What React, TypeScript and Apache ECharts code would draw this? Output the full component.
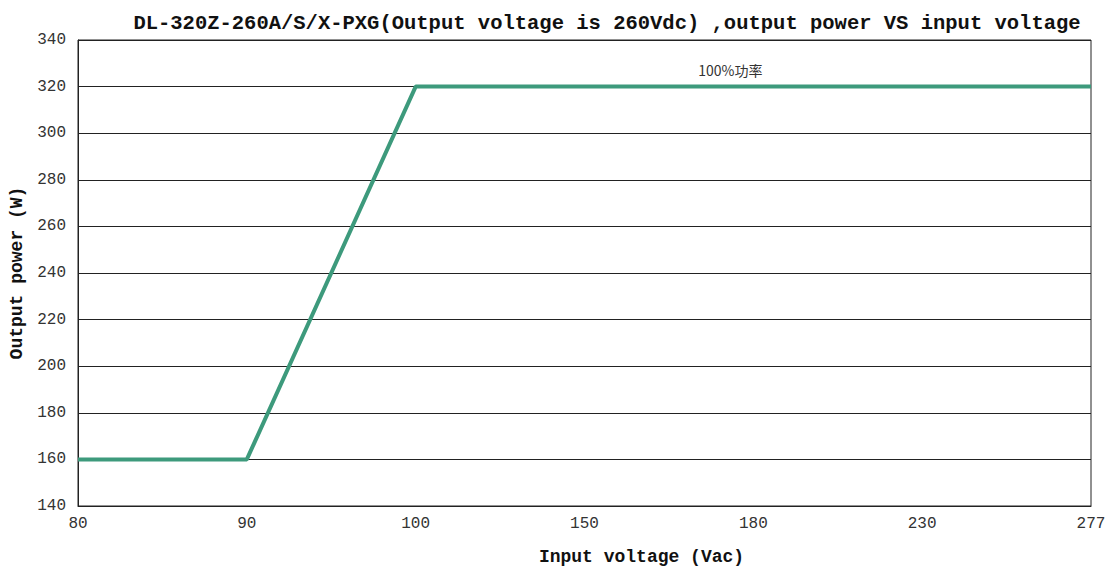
import React, { useEffect, useRef } from "react";
import * as echarts from "echarts";

const categories = ["80", "90", "100", "150", "180", "230", "277"];
const powerValues = [160, 160, 320, 320, 320, 320, 320];
const yTicks = { min: 140, max: 340, interval: 20 };
const titleText = "DL-320Z-260A/S/X-PXG(Output voltage is 260Vdc) ,output power VS input voltage";
const xName = "Input voltage (Vac)";
const yName = "Output power (W)";
const noteText = "100%功率";
const noteAt = "180";

export default function App() {
  const ref = useRef<HTMLDivElement>(null);
  useEffect(() => {
    const chart = echarts.init(ref.current!, null, { renderer: "svg" });
    const mono = "'Liberation Mono', 'DejaVu Sans Mono', monospace";
    chart.setOption({
      animation: false,
      backgroundColor: "#ffffff",
      title: {
        text: titleText,
        left: 602,
        textAlign: "center",
        top: 8,
        textStyle: { fontFamily: mono, fontWeight: "bold", fontSize: 20.5, color: "#111" },
      },
      grid: {
        left: 78,
        right: 19,
        top: 40,
        bottom: 66,
        outerBoundsMode: "none",
        containLabel: false,
        show: true,
        borderColor: "#222",
        borderWidth: 1,
        backgroundColor: "transparent",
      },
      xAxis: {
        type: "category",
        data: categories,
        boundaryGap: false,
        name: xName,
        nameLocation: "middle",
        nameGap: 42,
        nameTextStyle: { fontFamily: mono, fontWeight: "bold", fontSize: 18, color: "#111", padding: [0, 0, 0, 114] },
        axisLine: { show: true, lineStyle: { color: "#222", width: 1 } },
        axisTick: { show: false },
        splitLine: { show: false },
        axisLabel: { fontFamily: mono, fontSize: 16, color: "#333", margin: 10 },
      },
      yAxis: {
        type: "value",
        min: yTicks.min,
        max: yTicks.max,
        interval: yTicks.interval,
        name: yName,
        nameLocation: "middle",
        nameGap: 52,
        nameRotate: 90,
        nameTextStyle: { fontFamily: mono, fontWeight: "bold", fontSize: 18, color: "#111" },
        axisLine: { show: true, lineStyle: { color: "#222", width: 1 } },
        axisTick: { show: false },
        splitLine: { show: true, lineStyle: { color: "#222", width: 1 } },
        axisLabel: { fontFamily: mono, fontSize: 16, color: "#333", margin: 12 },
      },
      series: [
        {
          type: "line",
          data: powerValues,
          symbol: "none",
          lineStyle: { color: "#3d9a7c", width: 4 },
          markPoint: {
            symbol: "circle",
            symbolSize: 0,
            data: [{ coord: [noteAt, 320], value: noteText }],
            label: {
              show: true,
              formatter: noteText,
              offset: [-23, -17],
              fontFamily: "'Noto Sans CJK SC', 'Noto Sans', sans-serif",
              fontSize: 14,
              color: "#333",
            },
          },
        },
      ],
    });
    return () => chart.dispose();
  }, []);
  return <div ref={ref} style={{ position: "fixed", left: 0, top: 0, width: 1110, height: 572 }} />;
}
